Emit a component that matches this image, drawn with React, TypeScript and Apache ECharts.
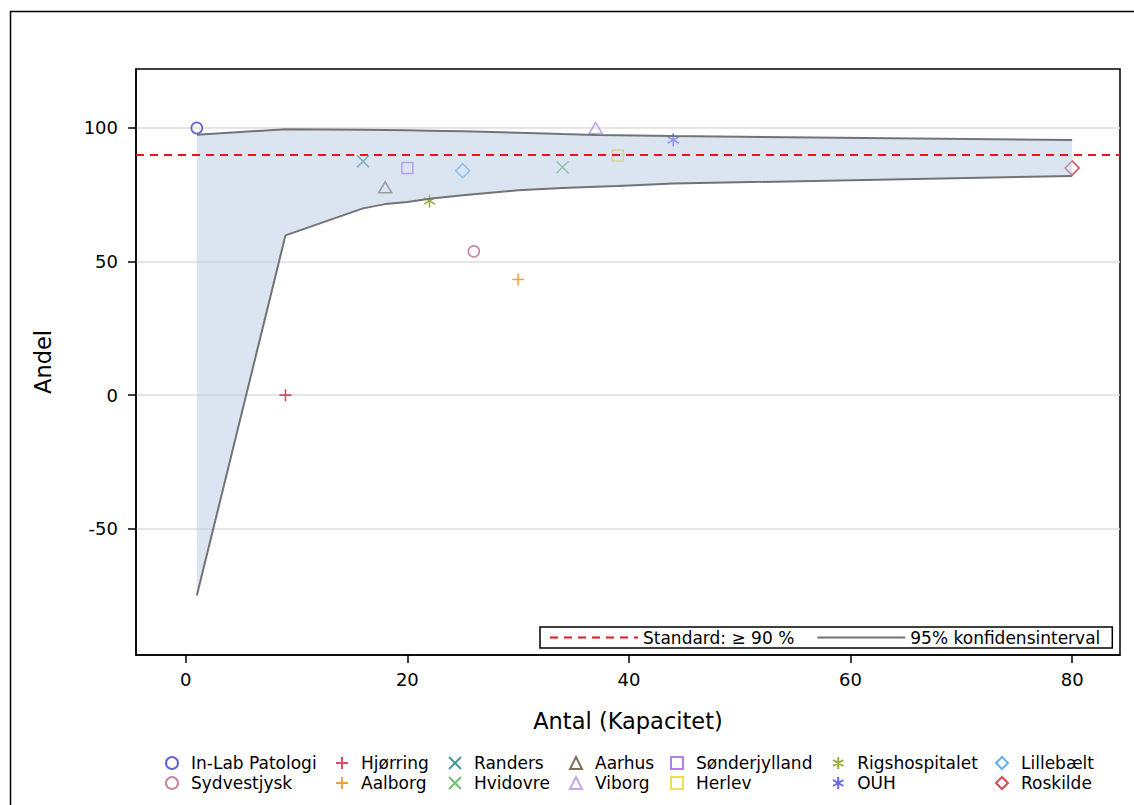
import { useEffect, useRef } from 'react';
import * as echarts from 'echarts';

// ---- data ----
const institutions = [
  'In-Lab Patologi', 'Sydvestjysk',
  'Hjørring', 'Aalborg',
  'Randers', 'Hvidovre',
  'Aarhus', 'Viborg',
  'Sønderjylland', 'Herlev',
  'Rigshospitalet', 'OUH',
  'Lillebælt', 'Roskilde',
];
const antal = [1, 26, 9, 30, 16, 34, 18, 37, 20, 39, 22, 44, 25, 80];
const andel = [100, 53.8, 0, 43.3, 87.5, 85.3, 77.8, 100, 85, 89.7, 72.7, 95.5, 84, 85];

const ciAntal = [1, 9, 16, 18, 20, 22, 25, 26, 30, 34, 37, 39, 44, 80];
const ciUpper = [97.5, 99.5, 99.3, 99.2, 99.1, 99.0, 98.8, 98.7, 98.2, 97.7, 97.4, 97.3, 97.0, 95.5];
const ciLower = [-75, 59.8, 69.9, 71.5, 72.3, 73.5, 74.8, 75.2, 76.7, 77.5, 78.0, 78.3, 79.2, 82.0];

const standardValue = 90;
const xTicks = [0, 20, 40, 60, 80];
const yTicks = [-50, 0, 50, 100];

const standardName = 'Standard: ≥ 90 %';
const ciName = '95% konfidensinterval';

// ---- styles ----
const FONT = 'DejaVu Sans';
const colors = [
  '#3a3acb', '#b5668a',
  '#d81f3e', '#e38b12',
  '#1f7a7a', '#4cae4c',
  '#5e4a2e', '#b393e6',
  '#a35de0', '#ecd424',
  '#7d9a10', '#4141dd',
  '#3d9ff0', '#c1202f',
];
const PLUS = 'path://M0,5L10,5M5,0L5,10';
const CROSS = 'path://M0,0L10,10M10,0L0,10';
const STAR = 'path://M5,0L5,10M0.67,2.5L9.33,7.5M0.67,7.5L9.33,2.5';
const symbolPairs: [string, any][] = [
  ['circle', 11],
  [PLUS, 12],
  [CROSS, 12],
  ['triangle', [13, 11]],
  ['rect', 11],
  [STAR, 13],
  ['diamond', 14],
];
const legendLefts = [165, 335, 448, 569, 670, 832, 995];

export default function App() {
  const ref = useRef<HTMLDivElement>(null);
  useEffect(() => {
    if (!ref.current) return;
    const chart = echarts.init(ref.current, undefined, { renderer: 'svg' });

    const scatterSeries = institutions.map((name, i) => {
      const [sym, size] = symbolPairs[Math.floor(i / 2)];
      return {
        type: 'scatter',
        name,
        data: [[antal[i], andel[i]]],
        symbol: sym,
        symbolSize: size,
        symbolKeepAspect: true,
        z: 2,
        itemStyle: { color: 'rgba(0,0,0,0)', borderColor: colors[i], borderWidth: 1.6 },
        emphasis: { disabled: true },
      };
    });

    const option: any = {
      animation: false,
      grid: { left: 136, right: 14, top: 69, bottom: 150, show: true, borderColor: '#000', borderWidth: 1.5, backgroundColor: 'transparent', outerBoundsMode: 'none' },
      xAxis: {
        type: 'value',
        min: -4.49,
        max: 84.32,
        name: 'Antal (Kapacitet)',
        nameLocation: 'middle',
        nameGap: 54,
        nameTextStyle: { fontSize: 22.5, color: '#000', fontFamily: FONT },
        axisLine: { show: true, onZero: false, lineStyle: { color: '#000', width: 1.5 } },
        axisTick: { show: true, customValues: xTicks, length: 8, lineStyle: { color: '#000', width: 1.5 } },
        axisLabel: {
          customValues: xTicks,
          color: '#000',
          margin: 15,
          fontSize: 18,
          fontFamily: FONT,
        },
        splitLine: { show: false },
      },
      yAxis: {
        type: 'value',
        min: -97.25,
        max: 122.07,
        name: 'Andel',
        nameLocation: 'middle',
        nameGap: 82,
        nameRotate: 90,
        nameTextStyle: { fontSize: 22.5, color: '#000', fontFamily: FONT },
        axisLine: { show: true, onZero: false, lineStyle: { color: '#000', width: 1.5 } },
        axisTick: { show: true, customValues: yTicks, length: 8, lineStyle: { color: '#000', width: 1.5 } },
        axisLabel: {
          customValues: yTicks,
          color: '#000',
          margin: 18,
          fontSize: 18,
          fontFamily: FONT,
        },
        splitLine: { show: true, lineStyle: { color: '#dedede', width: 1.5 } },
      },
      legend: [
        ...legendLefts.map((left, c) => ({
          orient: 'vertical',
          left,
          top: 754,
          data: [institutions[2 * c], institutions[2 * c + 1]],
          itemWidth: 12,
          itemHeight: 12,
          itemGap: 2,
          padding: 0,
          selectedMode: false,
          textStyle: { fontSize: 17, color: '#000', fontFamily: FONT, lineHeight: 18, padding: [0, 0, 0, 8] },
        })),
        {
          orient: 'horizontal',
          left: 540,
          top: 627,
          data: [standardName, ciName],
          itemWidth: 88,
          itemHeight: 12,
          itemGap: 22,
          padding: [1, 12, 1, 9],
          borderColor: '#000',
          borderWidth: 1.5,
          backgroundColor: '#fff',
          selectedMode: false,
          itemStyle: { color: 'rgba(0,0,0,0)', borderColor: 'rgba(0,0,0,0)', borderWidth: 0, opacity: 0 },
          textStyle: { fontSize: 17, color: '#000', fontFamily: FONT, lineHeight: 19 },
        },
      ],
      graphic: [
        {
          type: 'rect',
          left: 8,
          top: 9,
          shape: { x: 0, y: 0, width: 1140, height: 820 },
          style: { fill: 'none', stroke: '#000', lineWidth: 1.5 },
          silent: true,
        },
      ],
      series: [
        {
          type: 'line',
          name: standardName,
          data: [],
          symbol: 'none',
          z: 1,
          lineStyle: { color: '#e8141e', width: 2, type: [8, 6] },
          itemStyle: { color: '#e8141e' },
          markLine: {
            silent: true,
            symbol: 'none',
            label: { show: false },
            lineStyle: { color: '#e8141e', width: 2, type: [8, 6] },
            data: [{ yAxis: standardValue }],
          },
        },
        ...scatterSeries,
        {
          type: 'custom',
          name: 'band',
          z: 3,
          silent: true,
          data: [[ciAntal[0], ciUpper[0]]],
          renderItem: (_params: any, api: any) => {
            const pts: number[][] = [];
            for (let i = 0; i < ciAntal.length; i++) pts.push(api.coord([ciAntal[i], ciUpper[i]]));
            for (let i = ciAntal.length - 1; i >= 0; i--) pts.push(api.coord([ciAntal[i], ciLower[i]]));
            return {
              type: 'polygon',
              shape: { points: pts },
              style: { fill: 'rgba(183,203,227,0.5)', stroke: 'none' },
            };
          },
        },
        {
          type: 'line',
          name: ciName,
          data: ciAntal.map((x, i) => [x, ciUpper[i]]),
          symbol: 'none',
          z: 4,
          lineStyle: { color: '#737373', width: 2 },
          itemStyle: { color: '#737373' },
          emphasis: { disabled: true },
        },
        {
          type: 'line',
          name: ciName,
          data: ciAntal.map((x, i) => [x, ciLower[i]]),
          symbol: 'none',
          z: 4,
          lineStyle: { color: '#737373', width: 2 },
          itemStyle: { color: '#737373' },
          emphasis: { disabled: true },
        },
      ],
    };
    chart.setOption(option);
    return () => chart.dispose();
  }, []);
  return (
    <div
      ref={ref}
      style={{ position: 'fixed', left: 0, top: 0, width: 1134, height: 805, background: '#fff' }}
    />
  );
}
